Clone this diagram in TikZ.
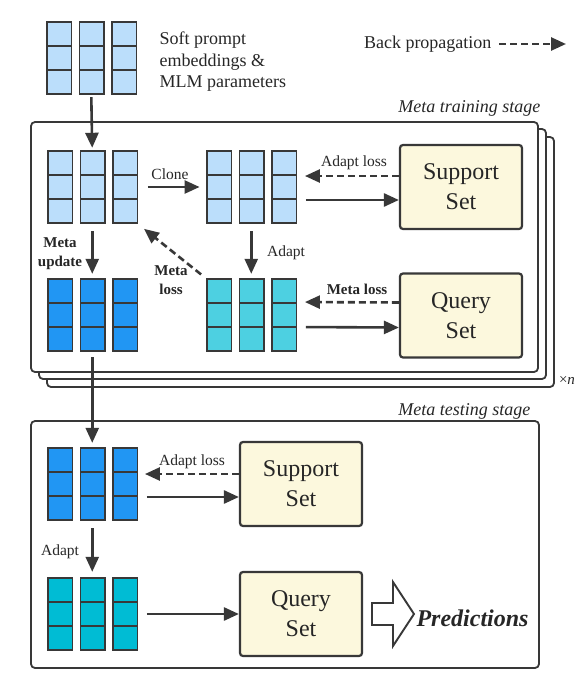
\documentclass[tikz,border=0pt]{standalone}
\usepackage{fontspec}
\setmainfont{Liberation Serif}
\usetikzlibrary{arrows.meta}
\definecolor{embpale}{RGB}{187,222,251}
\definecolor{embdark}{RGB}{33,150,243}
\definecolor{embcyan}{RGB}{77,208,225}
\definecolor{embteal}{RGB}{0,188,212}
\definecolor{setfill}{RGB}{252,248,221}
\colorlet{linegray}{black!78}

% one block of embeddings: 3 columns of 3 cells, named by #1
\newcommand{\embgrid}[4]{%
  \node[gridspot] (#1) at (#2+44.25,#3+36) {};
  \foreach \c in {0,1,2}
    \foreach \r in {0,1,2}
      \draw[cell,fill=#4] (#2+\c*32.5,#3+\r*24) rectangle ++(24.5,24);
}

\tikzset{
  gridspot/.style={minimum width=89, minimum height=72, inner sep=0},
  cell/.style={draw=linegray, line width=1.4pt},
  flow/.style={draw=linegray, line width=2.6pt, -{Triangle[length=15pt,width=13pt]}},
  back/.style={flow, dash pattern=on 7pt off 4pt},
  setbox/.style={draw=linegray, fill=setfill, line width=2.2pt, rounded corners=3pt,
    minimum width=122, minimum height=84, align=center, text=black!85,
    font=\fontsize{24}{30}\selectfont},
  stagebox/.style={draw=linegray, fill=white, line width=1.8pt, rounded corners=4pt},
  lbl/.style={text=black!85, font=\fontsize{15.5}{18}\selectfont},
  boldlbl/.style={text=black!85, align=center, font=\fontsize{15}{19}\selectfont\bfseries},
  stagelbl/.style={text=black!85, anchor=east, font=\fontsize{18}{20}\selectfont\itshape}
}

\begin{document}
\begin{tikzpicture}[x=1pt,y=-1pt]
  \useasboundingbox (0,0) rectangle (580,693);

  % legend and the initial parameters
  \embgrid{init}{47}{22}{embpale}
  \node[anchor=west, align=left, text=black!85, font=\fontsize{18}{21.5}\selectfont]
    (softlbl) at (156,62) {Soft prompt\\embeddings \&\\MLM parameters};
  \node[anchor=east, text=black!85, font=\fontsize{18}{20}\selectfont]
    (bplbl) at (495,44) {Back propagation};
  \coordinate (bpend) at (566,44);
  \draw[back, shorten <=4] (bplbl.east) -- (bpend);

  % meta training stage (stacked n times)
  \draw[stagebox] (47,137) rectangle (554,387);
  \draw[stagebox] (39,129) rectangle (546,379);
  \node[stagebox, minimum width=507, minimum height=250] (train) at (284.5,247) {};
  \node[stagelbl] (trainlbl) at (544,108) {Meta training stage};
  \node[text=black!85, font=\fontsize{15}{15}\selectfont] (ntimes) at (567,380) {×\textit{n}};

  \embgrid{meta}{48}{151}{embpale}
  \embgrid{clone}{207}{151}{embpale}
  \embgrid{upd}{48}{279}{embdark}
  \embgrid{adapted}{207}{279}{embcyan}
  \node[setbox] (supT) at (461,187) {Support\\Set};
  \node[setbox] (qryT) at (461,315.5) {Query\\Set};

  \draw[flow, shorten <=3, shorten >=3] (init.south) -- (meta.north);
  \draw[flow, shorten <=11, shorten >=7] (meta.east) -- (clone.west);
  \node[lbl] (clonelbl) at (170,174) {Clone};
  \draw[back, shorten >=9] ([yshift=11pt]supT.west) -- ([yshift=11pt]clone.east);
  \node[lbl] (adlossT) at (354,163) {Adapt loss};
  \draw[flow, shorten <=10] ([yshift=-13pt]clone.east) -- ([yshift=-13pt]supT.west);
  \draw[flow, shorten <=8, shorten >=5] (clone.south) -- (adapted.north);
  \node[lbl] (adaptT) at (286,253) {Adapt};
  \draw[back, shorten >=9] ([yshift=13pt]qryT.west) -- ([yshift=13pt]adapted.east);
  \node[boldlbl] (mlossT) at (357,289) {Meta loss};
  \draw[flow, shorten <=10] ([yshift=-12pt]adapted.east) -- ([yshift=-12pt]qryT.west);
  \draw[back, shorten <=7, shorten >=9] (adapted.north west) -- (meta.south east);
  \node[boldlbl] (mloss) at (171,280) {Meta\\loss};
  \draw[flow, shorten <=8, shorten >=5] (meta.south) -- (upd.north);
  \node[boldlbl] (mupd) at (60,254) {Meta\\update};

  % meta testing stage
  \node[stagebox, minimum width=508, minimum height=247] (test) at (285,544.5) {};
  \node[stagelbl] (testlbl) at (534,411) {Meta testing stage};
  \embgrid{tuned}{48}{448}{embdark}
  \embgrid{final}{48}{578}{embteal}
  \node[setbox] (supS) at (301,484) {Support\\Set};
  \node[setbox] (qryS) at (301,614) {Query\\Set};

  \draw[flow, shorten <=6, shorten >=5] (upd.south) -- (tuned.north);
  \draw[back, shorten >=8] ([yshift=10pt]supS.west) -- ([yshift=10pt]tuned.east);
  \node[lbl] (adlossS) at (192,462) {Adapt loss};
  \draw[flow, shorten <=10] ([yshift=-13pt]tuned.east) -- ([yshift=-13pt]supS.west);
  \draw[flow, shorten <=8, shorten >=6] (tuned.south) -- (final.north);
  \node[lbl] (adaptS) at (60,552) {Adapt};
  \draw[flow, shorten <=10] (final.east) -- (qryS.west);

  % open arrow to the predictions
  \draw[linegray, line width=1.9pt, fill=white] (372,603) -- (393,603) -- (393,582)
    -- (414,614) -- (393,646) -- (393,625) -- (372,625) -- cycle;
  \node[anchor=west, text=black!85, font=\fontsize{24}{24}\selectfont\bfseries\itshape]
    (predlbl) at (413,618) {Predictions};
\end{tikzpicture}
\end{document}
